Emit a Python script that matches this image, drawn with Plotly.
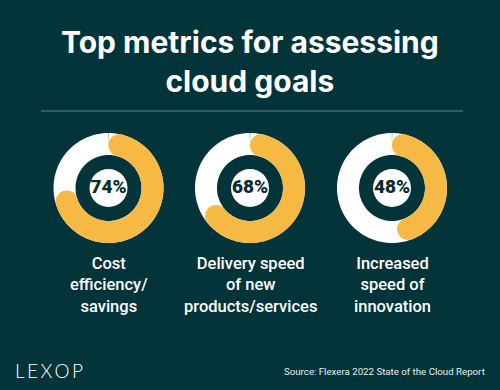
import numpy as np
import plotly.graph_objects as go

# ---- data ----
labels = ["Cost<br>efficiency/<br>savings",
          "Delivery speed<br>of new<br>products/services",
          "Increased<br>speed of<br>innovation"]
values = [74, 68, 48]
title_lines = ["Top metrics for assessing", "cloud goals"]
source_text = "Source: Flexera 2022 State of the Cloud Report"
brand = "LEXOP"

# ---- style ----
W, H = 500, 390
BG = "#03343a"
YEL = "#f6b944"
WHITE = "#ffffff"
DARK = "#0c2c30"
centers_x = [108.5, 250, 392]
center_y = 188
HALF = 56          # polar half-size in px (radial range 0..HALF => 1 unit = 1 px)
R_MID = 44
RING_W = 22
INNER_D = 38
cap_deg = np.degrees((RING_W / 2) / R_MID)

fig = go.Figure()
layout_polars = {}
for i, (cx, v) in enumerate(zip(centers_x, values)):
    key = "polar" if i == 0 else f"polar{i+1}"
    sub = key
    layout_polars[key] = dict(
        domain=dict(x=[(cx - HALF) / W, (cx + HALF) / W],
                    y=[1 - (center_y + HALF) / H, 1 - (center_y - HALF) / H]),
        bgcolor="rgba(0,0,0,0)",
        radialaxis=dict(visible=False, range=[0, HALF]),
        angularaxis=dict(visible=False, rotation=90, direction="clockwise",
                         showgrid=False, showline=False, showticklabels=False, ticks=""),
    )
    full = np.linspace(0, 360, 241)
    fig.add_trace(go.Scatterpolar(r=np.full_like(full, R_MID), theta=full, mode="lines",
                                  line=dict(color=WHITE, width=RING_W), subplot=sub,
                                  hoverinfo="skip", showlegend=False, cliponaxis=False))
    end = v / 100 * 360
    arc = np.linspace(cap_deg, end - cap_deg, 200)
    fig.add_trace(go.Scatterpolar(r=np.full_like(arc, R_MID), theta=arc, mode="lines",
                                  line=dict(color=YEL, width=RING_W), subplot=sub,
                                  hoverinfo="skip", showlegend=False, cliponaxis=False))
    fig.add_trace(go.Scatterpolar(r=[R_MID, R_MID], theta=[arc[0], arc[-1]], mode="markers",
                                  marker=dict(color=YEL, size=RING_W, line=dict(width=0)),
                                  subplot=sub, hoverinfo="skip", showlegend=False,
                                  cliponaxis=False))
    fig.add_trace(go.Scatterpolar(r=[0], theta=[0], mode="markers+text",
                                  marker=dict(color=WHITE, size=INNER_D, line=dict(width=0)),
                                  text=[f"{v}%"], textposition="middle center",
                                  textfont=dict(family="Roboto", size=19, color=DARK, weight=900),
                                  subplot=sub, hoverinfo="skip", showlegend=False,
                                  cliponaxis=False))

annotations = []
for cx, lab in zip(centers_x, labels):
    annotations.append(dict(x=cx / W, y=1 - 285 / H, xref="paper", yref="paper",
                            text=lab, showarrow=False, xanchor="center", yanchor="middle",
                            font=dict(family="Roboto", size=16.5, color=WHITE, weight=500),
                            align="center"))
annotations.append(dict(x=250 / W, y=1 - 62 / H, xref="paper", yref="paper",
                        text="<br>".join(title_lines), showarrow=False,
                        xanchor="center", yanchor="middle", align="center",
                        font=dict(family="Inter", size=30, color=WHITE, weight=700)))
annotations.append(dict(x=487 / W, y=1 - 371 / H, xref="paper", yref="paper",
                        text=source_text, showarrow=False, xanchor="right", yanchor="middle",
                        font=dict(family="Roboto", size=9.7, color="#e8eeee")))
annotations.append(dict(x=13 / W, y=1 - 370 / H, xref="paper", yref="paper",
                        text="\u2009".join(brand), showarrow=False, xanchor="left",
                        yanchor="middle",
                        font=dict(family="Lato", size=19, color=WHITE, weight=300)))

fig.update_layout(
    width=W, height=H, margin=dict(l=0, r=0, t=0, b=0),
    paper_bgcolor=BG, plot_bgcolor=BG,
    annotations=annotations,
    shapes=[dict(type="line", xref="paper", yref="paper",
                 x0=41 / W, x1=463 / W, y0=1 - 111 / H, y1=1 - 111 / H,
                 line=dict(color="#5f8586", width=1))],
    **layout_polars,
)
fig.write_html("out.html", config={"displayModeBar": False},
               post_script="document.body.style.margin='0';document.body.style.background='%s';" % BG)
